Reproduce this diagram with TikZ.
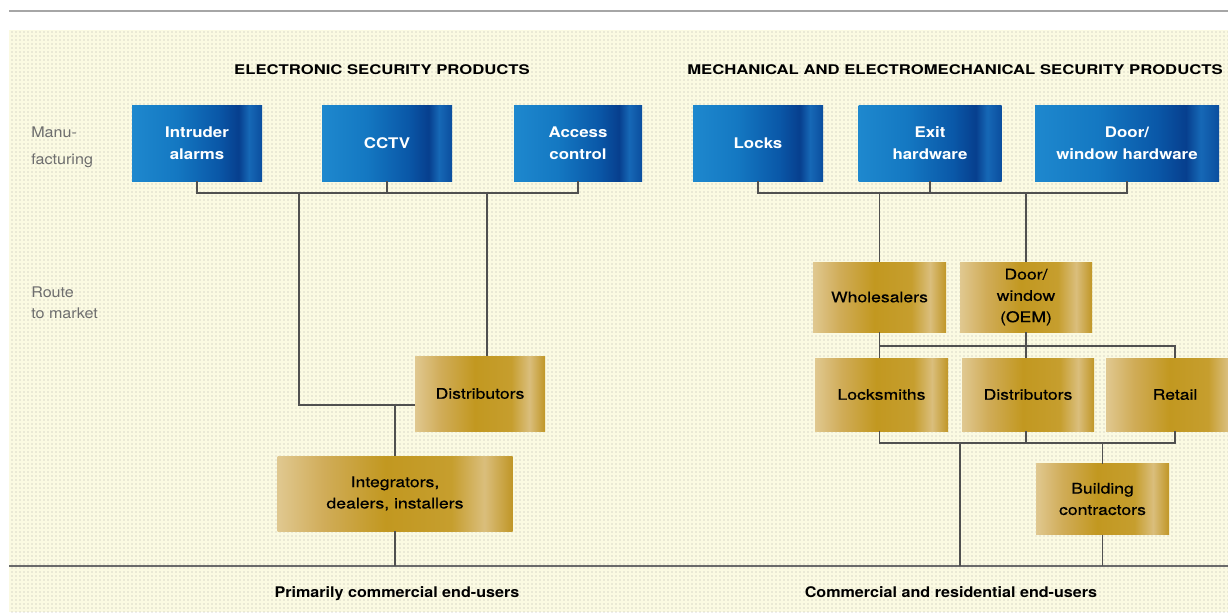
\documentclass[tikz,border=0pt]{standalone}
\usepackage{fontspec}
\setmainfont{TeX Gyre Heros}
\newfontfamily\wideA[FakeStretch=1.15]{TeX Gyre Heros}
\newfontfamily\wideB[FakeStretch=1.2,FakeBold=0.4]{TeX Gyre Heros}
\newfontfamily\wideC[FakeStretch=1.25]{TeX Gyre Heros}
\newfontfamily\wideD[FakeStretch=1.1]{TeX Gyre Heros}
\usetikzlibrary{patterns}
\definecolor{cream}{HTML}{FBFAE2}
\definecolor{dotgray}{HTML}{B4B4AC}
\definecolor{linegray}{HTML}{505050}
\definecolor{rulegray}{HTML}{6A6A6A}
\definecolor{sidegray}{HTML}{6E6E6E}
\definecolor{bA}{HTML}{1E88CE}
\definecolor{bB}{HTML}{1478C2}
\definecolor{bC}{HTML}{0A58A8}
\definecolor{bD}{HTML}{073F8E}
\definecolor{bE}{HTML}{1668B6}
\definecolor{bF}{HTML}{0B4E9E}
\definecolor{gA}{HTML}{E0C890}
\definecolor{gB}{HTML}{D0AC58}
\definecolor{gC}{HTML}{C29820}
\definecolor{gD}{HTML}{C69E2E}
\definecolor{gE}{HTML}{DABE7C}
\definecolor{gF}{HTML}{C09626}
\pgfdeclarehorizontalshading{blueshade}{100bp}{color(0bp)=(bA); color(25bp)=(bA); color(42bp)=(bB); color(58bp)=(bC); color(66bp)=(bD); color(70bp)=(bE); color(75bp)=(bF); color(100bp)=(bF)}
\pgfdeclarehorizontalshading{goldshade}{100bp}{color(0bp)=(gA); color(25bp)=(gA); color(35bp)=(gB); color(48bp)=(gC); color(62bp)=(gD); color(69bp)=(gE); color(75bp)=(gF); color(100bp)=(gF)}
\begin{document}
\begin{tikzpicture}[x=0.75pt,y=-0.75pt,
  bw/.style={minimum width=#1*0.75pt},
  bh/.style={minimum height=#1*0.75pt},
  boxbase/.style={rectangle, inner sep=0pt, outer sep=0pt, align=center},
  bluebox/.style={boxbase, shading=blueshade, text=white, bh=76,
    font={\wideA\bfseries\fontsize{11}{16.5}\selectfont}},
  goldbox/.style={boxbase, shading=goldshade, text=black,
    font={\wideB\fontsize{11}{16}\selectfont}},
  title/.style={font={\wideC\bfseries\fontsize{10}{12}\selectfont}, inner sep=0pt},
  sidelabel/.style={font={\wideD\fontsize{11}{20}\selectfont}, text=sidegray, align=left, anchor=west, inner sep=0pt},
  endlabel/.style={font={\wideD\bfseries\fontsize{11}{13}\selectfont}, inner sep=0pt},
  conn/.style={draw=linegray, line width=1.1pt},
  rule/.style={draw=rulegray, line width=1.5pt}]
\useasboundingbox (0,0) rectangle (1228,612);
\fill[white] (0,0) rectangle (1228,612);
\fill[cream] (9,30) rectangle (1228,612);
\fill[pattern=dots, pattern color=dotgray] (9,30) rectangle (1228,612);
\draw[rule, draw=gray!70] (9,11) -- (1228,11);

% titles
\node[title] (t1) at (382,70) {ELECTRONIC SECURITY PRODUCTS};
\node[title] (t2) at (955,70) {MECHANICAL AND ELECTROMECHANICAL SECURITY PRODUCTS};

% side labels
\node[sidelabel] (s1) at (31,147) {Manu-\\facturing};
\node[sidelabel] (s2) at (31,303) {Route\\[-4pt]to market};

% manufacturing boxes
\node[bluebox, bw=130] (ia) at (197,143) {Intruder\\alarms};
\node[bluebox, bw=130] (cctv) at (387,143) {CCTV};
\node[bluebox, bw=128] (acc) at (578,143) {Access\\control};
\node[bluebox, bw=130] (locks) at (758,143) {Locks};
\node[bluebox, bw=143] (exit) at (930,143) {Exit\\hardware};
\node[bluebox, bw=184] (dwh) at (1127,143) {Door/\\window hardware};

% route to market boxes
\node[goldbox, bw=130, bh=75] (dist1) at (480,393.5) {Distributors};
\node[goldbox, bw=235, bh=75] (integ) at (395,493.5) {Integrators,\\dealers, installers};
\node[goldbox, bw=133, bh=70] (whole) at (879.5,297) {Wholesalers};
\node[goldbox, bw=132, bh=70] (oem) at (1026,297) {Door/\\window\\(OEM)};
\node[goldbox, bw=133, bh=73] (lsm) at (881.5,394.5) {Locksmiths};
\node[goldbox, bw=132, bh=73] (dist2) at (1028,394.5) {Distributors};
\node[goldbox, bw=138, bh=73] (retail) at (1175,394.5) {Retail};
\node[goldbox, bw=133, bh=71] (build) at (1102.5,499) {Building\\contractors};

% rules and end-user labels
\coordinate (rL) at (9,566);
\coordinate (rR) at (1228,566);
\draw[rule] (rL) -- (rR);
\node[endlabel] (e1) at (397,594) {Primarily commercial end-users};
\node[endlabel] (e2) at (951,592) {Commercial and residential end-users};

% left connectors
\coordinate (busL) at (0,193);
\coordinate (jL1) at (299,193);
\coordinate (jL2) at (487,193);
\coordinate (jL3) at (299,405);
\draw[conn] (ia.south) -- (ia.south |- busL) -- (acc.south |- busL) -- (acc.south);
\draw[conn] (cctv.south) -- (cctv.south |- busL);
\draw[conn] (jL1) -- (jL3) -- (dist1.west |- jL3);
\draw[conn] (jL2) -- (jL2 |- dist1.north);
\draw[conn] (integ.north |- jL3) -- (integ.north);
\draw[conn] (integ.south) -- (integ.south |- rL);

% right connectors
\coordinate (busR) at (0,193);
\draw[conn] (locks.south) -- (locks.south |- busR) -- (dwh.south |- busR) -- (dwh.south);
\draw[conn] (exit.south) -- (exit.south |- busR);
\draw[conn] (whole.north |- busR) -- (whole.north);
\draw[conn] (oem.north |- busR) -- (oem.north);
\coordinate (busM) at (0,346);
\draw[conn] (whole.south) -- (whole.south |- lsm.north);
\draw[conn] (oem.south) -- (oem.south |- dist2.north);
\draw[conn] (whole.south |- busM) -- (retail.north |- busM) -- (retail.north);
\coordinate (busB) at (0,443);
\coordinate (jR1) at (960,443);
\draw[conn] (whole.south |- lsm.south) -- (whole.south |- busB) -- (retail.south |- busB) -- (retail.south);
\draw[conn] (oem.south |- dist2.south) -- (oem.south |- busB);
\draw[conn] (jR1) -- (jR1 |- rL);
\draw[conn] (build.north |- busB) -- (build.north);
\draw[conn] (build.south) -- (build.south |- rL);
\end{tikzpicture}
\end{document}
